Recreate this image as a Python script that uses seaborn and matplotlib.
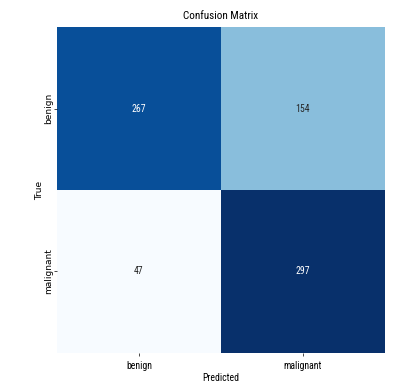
import matplotlib
matplotlib.use("Agg")
import matplotlib.pyplot as plt
from matplotlib import font_manager
import seaborn as sns
import numpy as np

labels = ["benign", "malignant"]
row_benign = [267, 154]
row_malignant = [47, 297]

cm = np.array([row_benign, row_malignant])

# Narrow sans face for horizontal text; fall back to DejaVu Sans
available = {f.name for f in font_manager.fontManager.ttflist}
family = "DejaVu Sans"
for cand in ["Roboto Condensed", "Liberation Sans Narrow", "Open Sans Condensed"]:
    if cand in available:
        family = cand
        break
plt.rcParams["font.family"] = [family, "DejaVu Sans"]

fig = plt.figure(figsize=(3.98, 3.87), dpi=100)
ax = fig.add_axes([0.143, 0.088, 0.824, 0.842])
sns.heatmap(cm, annot=True, fmt="d", cmap="Blues", cbar=False,
            xticklabels=labels, yticklabels=labels, ax=ax,
            annot_kws={"fontsize": 7})
ax.set_title("Confusion Matrix", fontsize=8, pad=6)
ax.set_xlabel("Predicted", fontsize=7, labelpad=2)
ax.set_ylabel("True", fontsize=6.5, family="DejaVu Sans", labelpad=0)
ax.tick_params(labelsize=7, length=2, width=0.5)
ax.tick_params(axis="y", pad=1)
plt.setp(ax.get_yticklabels(), rotation=90, va="center",
         family="DejaVu Sans", fontsize=6.5)
fig.savefig("out.png", dpi=100)
